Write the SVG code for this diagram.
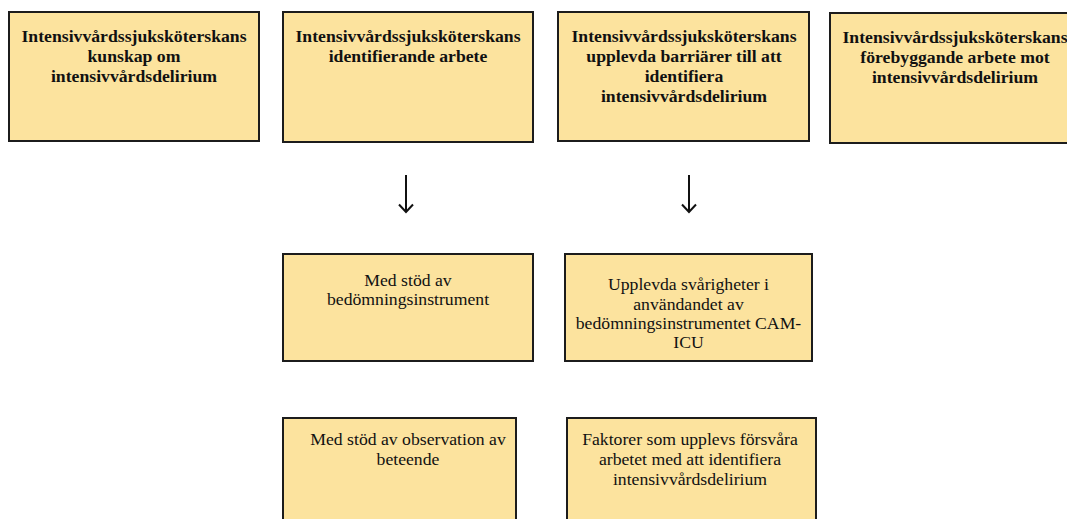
<svg xmlns="http://www.w3.org/2000/svg" width="1067" height="519" viewBox="0 0 1067 519">
<style>
.box{fill:#FCE39E;stroke:#1c1c1c;stroke-width:2}
.t{font-family:"Liberation Serif","Times New Roman",serif;font-size:17.7px;fill:#111;text-anchor:middle}
.b{font-weight:bold}
.arr{fill:none;stroke:#111;stroke-width:2}
</style>
<rect width="1067" height="519" fill="#fff"/>
<g id="n1">
<rect class="box" x="9" y="12" width="250" height="129"/>
<text class="t b" x="134" y="42">Intensivvårdssjuksköterskans</text>
<text class="t b" x="134" y="62">kunskap om</text>
<text class="t b" x="134" y="82">intensivvårdsdelirium</text>
</g>
<g id="n2">
<rect class="box" x="283" y="12" width="250" height="130"/>
<text class="t b" x="408" y="42">Intensivvårdssjuksköterskans</text>
<text class="t b" x="408" y="62">identifierande arbete</text>
</g>
<g id="n3">
<rect class="box" x="558" y="12" width="251" height="129"/>
<text class="t b" x="684" y="42">Intensivvårdssjuksköterskans</text>
<text class="t b" x="684" y="62">upplevda barriärer till att</text>
<text class="t b" x="684" y="82">identifiera</text>
<text class="t b" x="684" y="102">intensivvårdsdelirium</text>
</g>
<g id="n4">
<rect class="box" x="830" y="13" width="260" height="130"/>
<text class="t b" x="955" y="43">Intensivvårdssjuksköterskans</text>
<text class="t b" x="955" y="63">förebyggande arbete mot</text>
<text class="t b" x="955" y="83">intensivvårdsdelirium</text>
</g>
<g id="n5">
<rect class="box" x="283" y="254" width="250" height="107"/>
<text class="t" x="408" y="286">Med stöd av</text>
<text class="t" x="408" y="305">bedömningsinstrument</text>
</g>
<g id="n6">
<rect class="box" x="565" y="254" width="247" height="107"/>
<text class="t" x="688.5" y="290">Upplevda svårigheter i</text>
<text class="t" x="688.5" y="310">användandet av</text>
<text class="t" x="688.5" y="329">bedömningsinstrumentet CAM-</text>
<text class="t" x="688.5" y="348">ICU</text>
</g>
<g id="n7">
<rect class="box" x="283" y="418" width="233" height="120"/>
<text class="t" x="408" y="445">Med stöd av observation av</text>
<text class="t" x="408" y="465">beteende</text>
</g>
<g id="n8">
<rect class="box" x="567" y="418" width="249" height="120"/>
<text class="t" x="690" y="445">Faktorer som upplevs försvåra</text>
<text class="t" x="690" y="465">arbetet med att identifiera</text>
<text class="t" x="690" y="485">intensivvårdsdelirium</text>
</g>
<g id="connectors">
<path class="arr" d="M406 175V212M399 204.5L406 212L413 204.5"/>
<path class="arr" d="M689 175V212M682 204.5L689 212L696 204.5"/>
</g>
</svg>
